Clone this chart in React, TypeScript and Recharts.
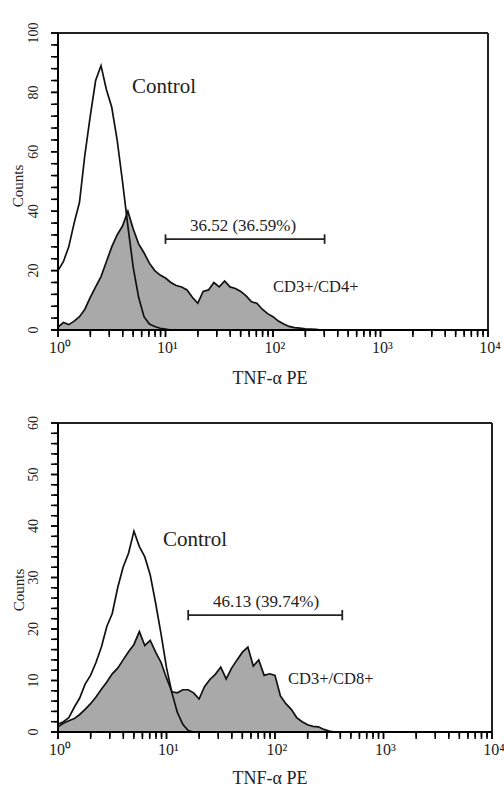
import React from "react";
import { ComposedChart, Area, Line, XAxis, YAxis, ReferenceLine } from "recharts";

// log10 of fluorescence (decades above 10^0)
const logChannel = [
  0.0, 0.05, 0.1, 0.15, 0.2, 0.25, 0.3, 0.35, 0.4, 0.45, 0.5, 0.55, 0.6, 0.65, 0.7, 0.75, 0.8, 0.85, 0.9, 0.95,
  1.0, 1.05, 1.1, 1.15, 1.2, 1.25, 1.3, 1.35, 1.4, 1.45, 1.5, 1.55, 1.6, 1.65, 1.7, 1.75, 1.8, 1.85, 1.9, 1.95,
  2.0, 2.05, 2.1, 2.15, 2.2, 2.25, 2.3, 2.35, 2.4, 2.45, 2.5, 2.55, 2.6,
];

const cd4Stim = [
  1, 2.5, 1.8, 3, 4.5, 7, 11, 14.5, 18, 23, 28, 32, 35, 40, 34, 29, 26, 22.5, 20, 18.5,
  17.5, 16, 15, 14.5, 13.5, 11, 9, 13, 13.5, 16, 14.5, 16.5, 14.5, 14, 13, 11.5, 9.5, 9, 7, 5.5,
  4.5, 3, 2, 1.2, 0.8, 0.6, 0.4, 0.3, 0.2, 0, 0, 0, 0,
];
const cd4Control = [
  20, 23, 28, 36, 43, 59, 72, 84, 89, 81, 75, 64, 50, 35, 21, 11, 4.5, 2, 1.2, 0.6,
  0.3, 0, 0, 0, 0, 0, 0, 0, 0, 0, 0, 0, 0, 0, 0, 0, 0, 0, 0, 0,
  0, 0, 0, 0, 0, 0, 0, 0, 0, 0, 0, 0, 0,
];
const cd8Stim = [
  1, 1.7, 2.2, 2.6, 3.4, 4.4, 5.5, 6.8, 8.3, 9.7, 11.3, 12.4, 14, 15.6, 17, 19.5, 16.8, 17.8, 15.5, 13.5,
  10.5, 7.8, 7.6, 8.2, 8.2, 7.6, 6.4, 8.8, 10.2, 11.2, 12.6, 10.3, 12.4, 14, 15.5, 16.5, 12.8, 14, 11, 11.3,
  11, 7, 5.5, 4.4, 2.8, 2, 1.4, 1.1, 1, 0.5, 0.2, 0, 0,
];
const cd8Control = [
  1.5, 2, 2.8, 4.8, 6.6, 9.3, 11, 13.5, 16.5, 20.5, 23, 28, 32, 34.7, 39, 36, 34, 30.5, 25, 19,
  12.5, 7.6, 3.8, 1.5, 0.3, 0, 0, 0, 0, 0, 0, 0, 0, 0, 0, 0, 0, 0, 0, 0,
  0, 0, 0, 0, 0, 0, 0, 0, 0, 0, 0, 0, 0,
];

const decadeTicks = [0, 1, 2, 3, 4];
const decadeLabels = ["10⁰", "10¹", "10²", "10³", "10⁴"];
const minorMultipliers = [2, 3, 4, 5, 6, 7, 8, 9];
const cd4YMajor = [0, 20, 40, 60, 80, 100];
const cd8YMajor = [0, 10, 20, 30, 40, 50, 60];
const gateLabels = ["36.52 (36.59%)", "46.13 (39.74%)"];
const gateFrom = [1.0, 1.2];
const gateTo = [2.48, 2.62];
const gateLevel = [30.6, 22.7];
const populationLabels = ["CD3+/CD4+", "CD3+/CD8+"];
const controlLabel = "Control";
const xTitle = "TNF-α PE";
const yTitle = "Counts";

const FONT = '"Liberation Serif", "Times New Roman", serif';
const INK = "#000000";
const CHART_W = 504;
const YAXIS_W = 58;
const XAXIS_H = 30;

const xTicks: number[] = [];
decadeTicks.forEach((d) => {
  xTicks.push(d);
  if (d < 4) minorMultipliers.forEach((m) => xTicks.push(d + Math.log10(m)));
});

const makeYTicks = (max: number, step: number) => {
  const t: number[] = [];
  for (let v = 0; v <= max + 1e-9; v += step) t.push(Math.round(v * 100) / 100);
  return t;
};

const isDecade = (v: number) => decadeTicks.some((d) => Math.abs(d - v) < 1e-6);

const xFormat = (v: number) => {
  const idx = decadeTicks.findIndex((d) => Math.abs(d - v) < 1e-6);
  return idx >= 0 ? decadeLabels[idx] : "";
};

type PanelCfg = {
  stim: number[];
  control: number[];
  yMax: number;
  yStep: number;
  majors: number[];
  gate: number;
  offsetTop: number;
  height: number;
  marginTop: number;
  marginBottom: number;
  marginRight: number;
  capHalf: number;
};

const panels: PanelCfg[] = [
  {
    stim: cd4Stim,
    control: cd4Control,
    yMax: 100,
    yStep: 4,
    majors: cd4YMajor,
    gate: 0,
    offsetTop: 0,
    height: 400,
    marginTop: 33,
    marginBottom: 40,
    marginRight: 16,
    capHalf: 1.6,
  },
  {
    stim: cd8Stim,
    control: cd8Control,
    yMax: 60,
    yStep: 2,
    majors: cd8YMajor,
    gate: 1,
    offsetTop: 400,
    height: 389,
    marginTop: 23,
    marginBottom: 27,
    marginRight: 12,
    capHalf: 1,
  },
];

const Panel = (p: PanelCfg) => {
  const data = logChannel.map((d, i) => ({ d, stim: p.stim[i], control: p.control[i] }));
  const yTicks = makeYTicks(p.yMax, p.yStep);
  const g = p.gate;
  return (
    <ComposedChart
      width={CHART_W}
      height={p.height}
      data={data}
      margin={{ top: p.marginTop, right: p.marginRight, bottom: p.marginBottom, left: 0 }}
    >
      <XAxis
        dataKey="d"
        type="number"
        domain={[0, 4]}
        ticks={xTicks}
        interval={0}
        tickSize={7}
        tickMargin={5}
        tickLine={{ stroke: INK, strokeWidth: 1.5 }}
        axisLine={{ stroke: INK, strokeWidth: 2 }}
        tickFormatter={xFormat}
        tick={{ fontSize: 16, fontFamily: FONT, fill: "#222", dx: 2 }}
        height={XAXIS_H}
      />
      <YAxis
        type="number"
        domain={[0, p.yMax]}
        ticks={yTicks}
        interval={0}
        width={YAXIS_W}
        tickSize={7}
        tickMargin={18}
        tickLine={{ stroke: INK, strokeWidth: 1.5 }}
        axisLine={{ stroke: INK, strokeWidth: 2 }}
        tickFormatter={(v: number) => (p.majors.includes(v) ? String(v) : "")}
        tick={{ fontSize: 14, fontFamily: FONT, fill: "#222", angle: -90, textAnchor: "middle" }}
      />
      <Area
        type="linear"
        dataKey="stim"
        stroke="#111"
        strokeWidth={1.7}
        fill="#a9a9a9"
        fillOpacity={1}
        isAnimationActive={false}
      />
      <Line type="linear" dataKey="control" stroke="#111" strokeWidth={1.7} dot={false} isAnimationActive={false} />
      <ReferenceLine y={p.yMax} stroke="#222" strokeWidth={2} />
      <ReferenceLine x={4} stroke="#222" strokeWidth={2} />
      <ReferenceLine
        segment={[
          { x: gateFrom[g], y: gateLevel[g] },
          { x: gateTo[g], y: gateLevel[g] },
        ]}
        stroke="#222"
        strokeWidth={1.8}
      />
      <ReferenceLine
        segment={[
          { x: gateFrom[g], y: gateLevel[g] - p.capHalf },
          { x: gateFrom[g], y: gateLevel[g] + p.capHalf },
        ]}
        stroke="#222"
        strokeWidth={1.8}
      />
      <ReferenceLine
        segment={[
          { x: gateTo[g], y: gateLevel[g] - p.capHalf },
          { x: gateTo[g], y: gateLevel[g] + p.capHalf },
        ]}
        stroke="#222"
        strokeWidth={1.8}
      />
    </ComposedChart>
  );
};

// Axis tick marks, laid over each panel using the same axis domains and plot geometry.
const TickMarks = () => {
  const marks: React.ReactNode[] = [];
  panels.forEach((p, pi) => {
    const left = YAXIS_W;
    const right = CHART_W - p.marginRight;
    const top = p.offsetTop + p.marginTop;
    const bottom = p.offsetTop + p.height - p.marginBottom - XAXIS_H;
    const sx = (v: number) => left + (v / 4) * (right - left);
    const sy = (v: number) => bottom - (v / p.yMax) * (bottom - top);
    xTicks.forEach((v, i) => {
      const len = isDecade(v) ? 7 : 5;
      marks.push(
        <line key={`x${pi}-${i}`} x1={sx(v)} x2={sx(v)} y1={bottom} y2={bottom + len} stroke={INK} strokeWidth={1.5} />
      );
    });
    makeYTicks(p.yMax, p.yStep).forEach((v, i) => {
      const len = p.majors.includes(v) ? 7 : 4;
      marks.push(
        <line key={`y${pi}-${i}`} x1={left} x2={left - len} y1={sy(v)} y2={sy(v)} stroke={INK} strokeWidth={1.5} />
      );
    });
  });
  return (
    <svg
      width={CHART_W}
      height={789}
      style={{ position: "absolute", left: 0, top: 0, pointerEvents: "none" }}
    >
      {marks}
    </svg>
  );
};

const Txt = (props: { x: number; y: number; size: number; children: React.ReactNode; anchor?: "left" | "center"; rotate?: boolean }) => {
  const tx = props.anchor === "left" ? "0" : "-50%";
  return (
    <div
      style={{
        position: "absolute",
        left: props.x,
        top: props.y,
        transform: `translate(${tx}, -50%)${props.rotate ? " rotate(-90deg)" : ""}`,
        fontFamily: FONT,
        fontSize: props.size,
        color: "#222",
        whiteSpace: "nowrap",
        lineHeight: 1,
      }}
    >
      {props.children}
    </div>
  );
};

export default function App() {
  return (
    <div style={{ position: "absolute", left: 0, top: 0, width: 504, height: 789, background: "#fff" }}>
      {panels.map((p, i) => (
        <div key={i} style={{ position: "absolute", left: 0, top: p.offsetTop }}>
          <Panel {...p} />
        </div>
      ))}
      <TickMarks />

      <Txt x={132} y={86} size={21} anchor="left">{controlLabel}</Txt>
      <Txt x={243} y={225} size={17}>{gateLabels[0]}</Txt>
      <Txt x={273} y={287} size={16.5} anchor="left">{populationLabels[0]}</Txt>
      <Txt x={270} y={378} size={18}>{xTitle}</Txt>
      <div style={{ position: "absolute", left: 18, top: 186, width: 0, height: 0 }}>
        <Txt x={0} y={0} size={15} rotate>{yTitle}</Txt>
      </div>

      <Txt x={163} y={539} size={21} anchor="left">{controlLabel}</Txt>
      <Txt x={266} y={601} size={17}>{gateLabels[1]}</Txt>
      <Txt x={288} y={679} size={16.5} anchor="left">{populationLabels[1]}</Txt>
      <Txt x={270} y={778} size={18}>{xTitle}</Txt>
      <div style={{ position: "absolute", left: 19, top: 590, width: 0, height: 0 }}>
        <Txt x={0} y={0} size={15} rotate>{yTitle}</Txt>
      </div>
    </div>
  );
}
